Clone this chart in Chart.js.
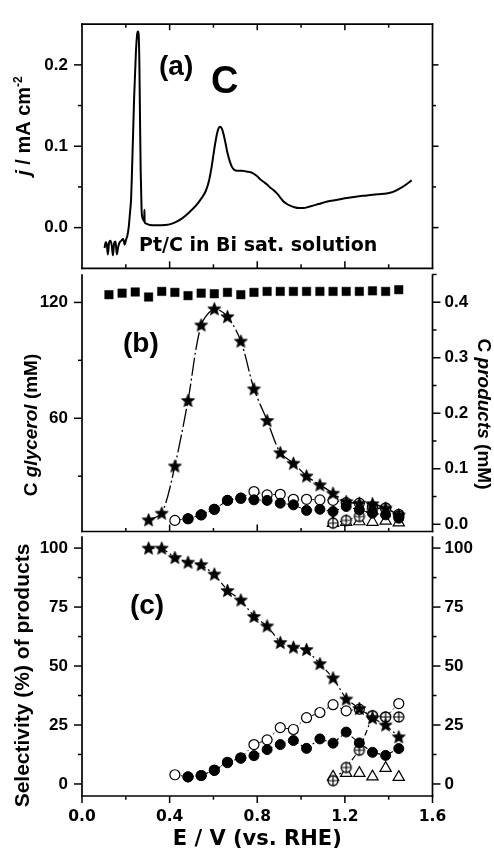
<!DOCTYPE html>
<html><head><meta charset="utf-8">
<script src="https://cdn.jsdelivr.net/npm/chart.js@4.4.1/dist/chart.umd.min.js"></script>
<style>
html,body{margin:0;padding:0;background:#fff;}
#wrap{position:relative;width:494px;height:855px;overflow:hidden;background:#fff;}
canvas{position:absolute;left:0;top:0;}
</style></head><body>
<div id="wrap">
<canvas id="ca" width="494" height="855"></canvas>
<canvas id="cb" width="494" height="855"></canvas>
<canvas id="cc" width="494" height="855"></canvas>
</div>
<script>
// ---------- DATA ----------
// (a) cyclic voltammogram: potential (V vs RHE) and current density (mA cm-2)
const cvPotential = [0.103,0.108,0.113,0.118,0.124,0.130,0.136,0.141,0.147,0.153,0.159,0.165,0.172,0.180,0.188,0.195,0.201,0.207,0.213,0.219,0.224,0.230,0.238,0.246,0.252,0.256,0.259,0.262,0.265,0.268,0.272,0.276,0.281,0.284,0.285,0.286,0.292,0.300,0.320,0.360,0.400,0.430,0.460,0.490,0.520,0.545,0.565,0.580,0.592,0.603,0.613,0.622,0.630,0.638,0.646,0.655,0.664,0.674,0.684,0.695,0.710,0.730,0.750,0.770,0.785,0.800,0.815,0.830,0.845,0.860,0.875,0.890,0.905,0.920,0.935,0.950,0.970,0.990,1.010,1.040,1.080,1.120,1.160,1.200,1.250,1.300,1.350,1.390,1.420,1.450,1.480,1.505];
const cvCurrent = [-0.025,-0.018,-0.020,-0.033,-0.018,-0.016,-0.022,-0.034,-0.019,-0.017,-0.033,-0.024,-0.018,-0.016,-0.014,-0.021,-0.015,-0.010,0.000,0.018,0.035,0.085,0.160,0.215,0.238,0.241,0.236,0.200,0.130,0.068,0.022,0.012,0.009,0.008,0.022,0.007,0.005,0.004,0.003,0.003,0.004,0.007,0.012,0.019,0.027,0.036,0.045,0.058,0.075,0.095,0.111,0.121,0.124,0.122,0.115,0.104,0.092,0.082,0.075,0.071,0.070,0.070,0.069,0.068,0.066,0.063,0.059,0.056,0.053,0.049,0.046,0.042,0.037,0.032,0.029,0.027,0.025,0.024,0.024,0.026,0.029,0.032,0.034,0.036,0.038,0.0395,0.041,0.042,0.044,0.048,0.053,0.058];

// (b)/(c) electrolysis potentials (V vs RHE)
const potentials = [0.123,0.183,0.243,0.304,0.364,0.424,0.484,0.544,0.604,0.664,0.725,0.785,0.845,0.905,0.965,1.025,1.086,1.146,1.206,1.266,1.326,1.386,1.446];
// (b) glycerol concentration (mM, left axis)
const glycerolConc = [124.0,124.8,125.4,122.8,125.7,125.2,123.5,124.8,124.5,125.2,124.0,125.2,125.7,125.7,125.7,125.7,125.7,125.7,125.7,125.7,126.0,125.7,126.6];
// (b) product concentrations (mM, right axis)
const prodStar   = [null,null,null,0.008,0.020,0.105,0.223,0.359,0.388,0.374,0.330,0.244,0.187,0.129,0.110,0.087,0.071,0.056,0.041,0.038,0.037,0.029,0.017];
const prodFilled = [null,null,null,null,null,null,0.010,0.017,0.027,0.043,0.047,0.044,0.043,0.038,0.035,0.025,0.027,0.023,0.032,0.026,0.020,0.017,0.011];
const prodOpen   = [null,null,null,null,null,0.007,0.010,0.017,0.027,0.043,0.047,0.059,0.053,0.054,0.045,0.045,0.044,0.043,0.039,0.038,0.032,0.029,0.018];
const prodCross  = [null,null,null,null,null,null,null,null,null,null,null,null,null,null,null,null,null,0.002,0.007,0.014,0.028,0.029,0.015];
const prodTri    = [null,null,null,null,null,null,null,null,null,null,null,null,null,null,null,null,null,0.002,0.004,0.005,0.004,0.006,0.003];
// (c) selectivity (%)
const selStar   = [null,null,null,100,100,96,94,93,89,82,78,71,67,60,58,57,51,45,36,32,28,25,20];
const selOpen   = [null,null,null,null,null,3.9,3.0,3.6,5.9,9.2,11.1,16.7,18.7,23.9,23.1,28.1,30.3,33.6,31.0,31.7,28.9,28.4,34.1];
const selFilled = [null,null,null,null,null,null,3.0,3.6,5.7,9.0,10.9,12.0,14.6,16.7,18.4,15.1,19.1,17.3,22.0,17.4,13.4,12.1,15.0];
const selCross  = [null,null,null,null,null,null,null,null,null,null,null,null,null,null,null,null,null,1.4,7.0,14.3,28.9,28.4,28.4];
const selTri    = [null,null,null,null,null,null,null,null,null,null,null,null,null,null,null,null,null,3.0,4.6,4.6,3.1,6.7,2.9];

// tick labels
const xTicks = [0.0,0.4,0.8,1.2,1.6];
const yTicksA = [0.0,0.1,0.2];
const yTicksBLeft = [60,120];
const yTicksBRight = [0.0,0.1,0.2,0.3,0.4];
const yTicksC = [0,25,50,75,100];

// ---------- helpers ----------
function zip(xs, ys){ const out=[]; for(let i=0;i<xs.length;i++){ if(ys[i]!==null && ys[i]!==undefined) out.push({x:xs[i],y:ys[i]}); } return out; }

function starImg(r){
  const s=Math.ceil(2*r+3), c=document.createElement('canvas'); c.width=c.height=s;
  const g=c.getContext('2d'); g.translate(s/2,s/2+0.5); g.beginPath();
  for(let i=0;i<10;i++){ const rr=i%2?r*0.45:r; const a=-Math.PI/2+i*Math.PI/5; g.lineTo(rr*Math.cos(a),rr*Math.sin(a)); }
  g.closePath(); g.fillStyle='#000'; g.fill(); g.lineWidth=0.6; g.strokeStyle='#000'; g.stroke(); return c;
}
function crossCircleImg(r){
  const s=Math.ceil(2*r+4), c=document.createElement('canvas'); c.width=c.height=s;
  const g=c.getContext('2d'); g.translate(s/2,s/2);
  g.beginPath(); g.arc(0,0,r,0,Math.PI*2); g.fillStyle='#fff'; g.fill();
  g.lineWidth=1.3; g.strokeStyle='#000'; g.stroke();
  g.beginPath(); g.moveTo(-r,0); g.lineTo(r,0); g.moveTo(0,-r); g.lineTo(0,r); g.lineWidth=1.2; g.stroke();
  return c;
}
const STAR = starImg(7);
const OPLUS = crossCircleImg(5);

const decoPlugin = {
  id:'deco',
  afterDraw(chart, args, o){
    const ctx=chart.ctx, a=chart.chartArea;
    ctx.save();
    ctx.strokeStyle='#000'; ctx.fillStyle='#000';
    (o.sides||[]).forEach(s=>{
      const sc=chart.scales[s.scale];
      ctx.lineWidth=1.7; ctx.lineCap='square';
      ctx.beginPath();
      if(s.side==='left'||s.side==='right'){
        const x = s.side==='left'?a.left:a.right;
        ctx.moveTo(x,a.top); ctx.lineTo(x,a.bottom); ctx.stroke();
        const sign=(s.side==='left'?-1:1)*(s.dir==='out'?1:-1);
        ctx.lineCap='butt'; ctx.lineWidth=1.5;
        const tk=(v,len)=>{ const y=sc.getPixelForValue(v); ctx.beginPath(); ctx.moveTo(x,y); ctx.lineTo(x+sign*len,y); ctx.stroke(); };
        s.major.forEach(v=>tk(v,s.majLen)); s.minor.forEach(v=>tk(v,s.minLen));
      } else {
        const y = s.side==='top'?a.top:a.bottom;
        ctx.moveTo(a.left,y); ctx.lineTo(a.right,y); ctx.stroke();
        const sign=(s.side==='top'?-1:1)*(s.dir==='out'?1:-1);
        ctx.lineCap='butt'; ctx.lineWidth=1.5;
        const tk=(v,len)=>{ const x=sc.getPixelForValue(v); ctx.beginPath(); ctx.moveTo(x,y); ctx.lineTo(x,y+sign*len); ctx.stroke(); };
        s.major.forEach(v=>tk(v,s.majLen)); s.minor.forEach(v=>tk(v,s.minLen));
      }
    });
    (o.labels||[]).forEach(l=>{
      const px=chart.scales[l.xScale||'x'].getPixelForValue(l.x);
      const py=chart.scales[l.yScale||'y'].getPixelForValue(l.y);
      ctx.font=l.font; ctx.textAlign=l.align||'left'; ctx.textBaseline='alphabetic';
      ctx.fillText(l.text,px,py);
    });
    (o.titles||[]).forEach(t=>{
      ctx.save(); ctx.translate(t.x,t.y); ctx.rotate(t.rot);
      let total=0; const w=[];
      t.segs.forEach((s,i)=>{ ctx.font=s.font; w[i]=ctx.measureText(s.text).width; total+=w[i]; });
      let x=-total/2; ctx.textAlign='left'; ctx.textBaseline='alphabetic';
      t.segs.forEach((s,i)=>{ ctx.font=s.font; ctx.fillText(s.text,x,s.dy||0); x+=w[i]; });
      ctx.restore();
    });
    ctx.restore();
  }
};

const TICKFONT_Y = {family:'"Liberation Sans", Arial, sans-serif', weight:'bold', size:17};
const TICKFONT_X = {family:'"DejaVu Sans", sans-serif', weight:'bold', size:15.5};
const noGrid = {display:false, drawTicks:false};
const noBorder = {display:false};
function fixedTicks(vals){ return s=>{ s.ticks = vals.map(v=>({value:v})); }; }
const PAGE_H = 855;
const LEFT_W = 82, RIGHT_W = 61.5;
const baseOpts = {responsive:false, animation:false, events:[]};
const xMinor = [0.2,0.6,1.0,1.4];
const xMajor = [0.4,0.8,1.2];

// ---------- (a) ----------
new Chart(document.getElementById('ca'), {
  type:'scatter',
  data:{datasets:[{data:zip(cvPotential,cvCurrent), showLine:true, borderColor:'#000', borderWidth:2, pointRadius:0, cubicInterpolationMode:'monotone', clip:false}]},
  options:Object.assign({}, baseOpts, {
    layout:{padding:{top:11,left:0,right:0,bottom:0}},
    plugins:{legend:{display:false}, tooltip:{enabled:false},
      deco:{
        sides:[
          {scale:'y', side:'left', dir:'out', major:[0,0.1,0.2], minor:[0.05,0.15], majLen:8, minLen:4},
          {scale:'y', side:'right', dir:'out', major:[0,0.1,0.2], minor:[0.05,0.15], majLen:6, minLen:3.5},
          {scale:'x', side:'bottom', dir:'in', major:xMajor, minor:xMinor, majLen:7, minLen:4},
          {scale:'x', side:'top', dir:'in', major:xMajor, minor:xMinor, majLen:6, minLen:3.5}
        ],
        labels:[
          {text:'(a)', font:'bold 28px "Liberation Sans", Arial, sans-serif', x:0.3515, y:0.188},
          {text:'C', font:'bold 38px "Liberation Sans", Arial, sans-serif', x:0.589, y:0.165},
          {text:'Pt/C in Bi sat. solution', font:'bold 19px "DejaVu Sans", sans-serif', x:0.260, y:-0.0285}
        ],
        titles:[
          {x:30, y:126, rot:-Math.PI/2, segs:[
            {text:'j', font:'italic bold 20px "Liberation Sans", Arial, sans-serif'},
            {text:' / mA cm', font:'bold 20px "Liberation Sans", Arial, sans-serif'},
            {text:'-2', font:'bold 12px "Liberation Sans", Arial, sans-serif', dy:-8}
          ]}
        ]
      }
    },
    scales:{
      x:{type:'linear', position:'bottom', min:0, max:1.6, grid:noGrid, border:noBorder, ticks:{display:false}, afterFit:s=>{s.height=PAGE_H-268.3;}},
      y:{type:'linear', position:'left', min:-0.05, max:0.25, grid:noGrid, border:noBorder,
         ticks:{color:'#000', font:TICKFONT_Y, padding:14, callback:v=>Number(v).toFixed(1)},
         afterBuildTicks:fixedTicks(yTicksA), afterFit:s=>{s.width=LEFT_W;}},
      y2:{type:'linear', position:'right', min:-0.05, max:0.25, grid:noGrid, border:noBorder, ticks:{display:false}, afterFit:s=>{s.width=RIGHT_W;}}
    }
  }),
  plugins:[decoPlugin]
});

// ---------- (b) ----------
new Chart(document.getElementById('cb'), {
  type:'scatter',
  data:{datasets:[
    {data:zip(potentials,prodStar), yAxisID:'yR', showLine:true, tension:0.3, borderColor:'#000', borderWidth:1.3, borderDash:[18,3,2,3], pointStyle:STAR, pointRadius:6, order:1, clip:false},
    {data:zip(potentials,prodFilled), yAxisID:'yR', showLine:true, borderColor:'#000', borderWidth:1, borderDash:[4,3,1.5,3], pointStyle:'circle', pointRadius:5, pointBackgroundColor:'#000', pointBorderColor:'#000', pointBorderWidth:1, order:2, clip:false},
    {data:zip(potentials,prodCross), yAxisID:'yR', showLine:true, borderColor:'#000', borderWidth:1, borderDash:[4,3,1.5,3], pointStyle:OPLUS, pointRadius:5, order:3, clip:false},
    {data:zip(potentials,prodOpen), yAxisID:'yR', showLine:true, borderColor:'#000', borderWidth:1, borderDash:[2,3], pointStyle:'circle', pointRadius:5, pointBackgroundColor:'#fff', pointBorderColor:'#000', pointBorderWidth:1.2, order:4, clip:false},
    {data:zip(potentials,prodTri), yAxisID:'yR', showLine:false, pointStyle:'triangle', pointRadius:6.5, pointBackgroundColor:'#fff', pointBorderColor:'#000', pointBorderWidth:1.2, order:5, clip:false},
    {data:zip(potentials,glycerolConc), yAxisID:'yL', showLine:false, pointStyle:'rect', pointRadius:6, pointBackgroundColor:'#000', pointBorderColor:'#000', pointBorderWidth:0.5, order:6, clip:false}
  ]},
  options:Object.assign({}, baseOpts, {
    layout:{padding:{top:275,left:0,right:0,bottom:0}},
    plugins:{legend:{display:false}, tooltip:{enabled:false},
      deco:{
        sides:[
          {scale:'yL', side:'left', dir:'out', major:[60,120], minor:[30,90], majLen:8, minLen:4},
          {scale:'yR', side:'right', dir:'out', major:[0,0.1,0.2,0.3,0.4], minor:[0.05,0.15,0.25,0.35,0.45], majLen:8, minLen:4},
          {scale:'x', side:'bottom', dir:'in', major:xMajor, minor:xMinor, majLen:7, minLen:3.5}
        ],
        labels:[
          {text:'(b)', font:'bold 28px "Liberation Sans", Arial, sans-serif', x:0.187, y:0.310, yScale:'yR'}
        ],
        titles:[
          {x:37, y:425, rot:-Math.PI/2, segs:[
            {text:'C ', font:'bold 19px "Liberation Sans", Arial, sans-serif'},
            {text:'glycerol', font:'italic bold 19px "Liberation Sans", Arial, sans-serif'},
            {text:' (mM)', font:'bold 19px "Liberation Sans", Arial, sans-serif'}
          ]},
          {x:478, y:414, rot:Math.PI/2, segs:[
            {text:'C ', font:'bold 19px "Liberation Sans", Arial, sans-serif'},
            {text:'products', font:'italic bold 19px "Liberation Sans", Arial, sans-serif'},
            {text:' (mM)', font:'bold 19px "Liberation Sans", Arial, sans-serif'}
          ]}
        ]
      }
    },
    scales:{
      x:{type:'linear', position:'bottom', min:0, max:1.6, grid:noGrid, border:noBorder, ticks:{display:false}, afterFit:s=>{s.height=PAGE_H-531.5;}},
      yL:{type:'linear', position:'left', min:1.35, max:134.2, grid:noGrid, border:noBorder,
         ticks:{color:'#000', font:TICKFONT_Y, padding:14, callback:v=>String(Math.round(v))},
         afterBuildTicks:fixedTicks(yTicksBLeft), afterFit:s=>{s.width=LEFT_W;}},
      yR:{type:'linear', position:'right', min:-0.013, max:0.449, grid:noGrid, border:noBorder,
         ticks:{color:'#000', font:TICKFONT_Y, padding:12, callback:v=>Number(v).toFixed(1)},
         afterBuildTicks:fixedTicks(yTicksBRight), afterFit:s=>{s.width=RIGHT_W;}}
    }
  }),
  plugins:[decoPlugin]
});

// ---------- (c) ----------
new Chart(document.getElementById('cc'), {
  type:'scatter',
  data:{datasets:[
    {data:zip(potentials,selStar), showLine:true, borderColor:'#000', borderWidth:1.2, borderDash:[6,3,2,3], pointStyle:STAR, pointRadius:6, order:1, clip:false},
    {data:zip(potentials,selFilled), showLine:true, borderColor:'#000', borderWidth:1.1, borderDash:[6,3,2,3], pointStyle:'circle', pointRadius:5, pointBackgroundColor:'#000', pointBorderColor:'#000', pointBorderWidth:1, order:2, clip:false},
    {data:zip(potentials,selCross), showLine:true, borderColor:'#000', borderWidth:1.2, borderDash:[6,3,2,3], pointStyle:OPLUS, pointRadius:5, order:3, clip:false},
    {data:zip(potentials,selOpen), showLine:true, borderColor:'#000', borderWidth:1, borderDash:[3,3,1.5,3], pointStyle:'circle', pointRadius:5, pointBackgroundColor:'#fff', pointBorderColor:'#000', pointBorderWidth:1.2, order:4, clip:false},
    {data:zip(potentials,selTri), showLine:false, pointStyle:'triangle', pointRadius:6.5, pointBackgroundColor:'#fff', pointBorderColor:'#000', pointBorderWidth:1.2, order:5, clip:false}
  ]},
  options:Object.assign({}, baseOpts, {
    layout:{padding:{top:537,left:0,right:0,bottom:0}},
    plugins:{legend:{display:false}, tooltip:{enabled:false},
      deco:{
        sides:[
          {scale:'y', side:'left', dir:'out', major:yTicksC, minor:[12.5,37.5,62.5,87.5], majLen:8, minLen:4},
          {scale:'y', side:'right', dir:'out', major:yTicksC, minor:[12.5,37.5,62.5,87.5], majLen:8, minLen:4},
          {scale:'x', side:'bottom', dir:'out', major:xTicks, minor:xMinor, majLen:7, minLen:3.7}
        ],
        labels:[
          {text:'(c)', font:'bold 28px "Liberation Sans", Arial, sans-serif', x:0.219, y:72.0}
        ],
        titles:[
          {x:29, y:675.5, rot:-Math.PI/2, segs:[
            {text:'Selectivity (%) of products', font:'bold 21px "Liberation Sans", Arial, sans-serif'}
          ]}
        ]
      }
    },
    scales:{
      x:{type:'linear', position:'bottom', min:0, max:1.6, grid:noGrid, border:noBorder,
         ticks:{color:'#000', font:TICKFONT_X, padding:12, maxRotation:0, autoSkip:false, callback:v=>Number(v).toFixed(1)},
         afterBuildTicks:fixedTicks(xTicks),
         title:{display:true, text:'E / V (vs. RHE)', color:'#000', font:{family:'"DejaVu Sans", sans-serif', weight:'bold', size:21}, padding:{top:0,bottom:3}},
         afterFit:s=>{s.height=PAGE_H-796;}},
      y:{type:'linear', position:'left', min:-5.1, max:104.7, grid:noGrid, border:noBorder,
         ticks:{color:'#000', font:TICKFONT_Y, padding:14, callback:v=>String(Math.round(v))},
         afterBuildTicks:fixedTicks(yTicksC), afterFit:s=>{s.width=LEFT_W;}},
      y2:{type:'linear', position:'right', min:-5.1, max:104.7, grid:noGrid, border:noBorder,
         ticks:{color:'#000', font:TICKFONT_Y, padding:12, callback:v=>String(Math.round(v))},
         afterBuildTicks:fixedTicks(yTicksC), afterFit:s=>{s.width=RIGHT_W;}}
    }
  }),
  plugins:[decoPlugin]
});
</script>
</body></html>
